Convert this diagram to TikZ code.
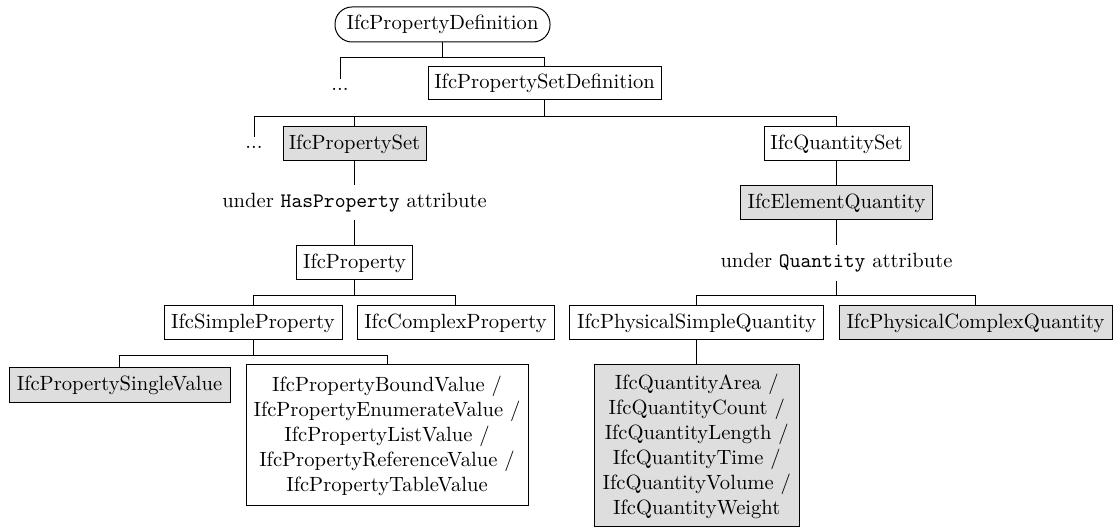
\documentclass[tikz,border=0pt]{standalone}
\definecolor{boxgray}{RGB}{222,222,222}
\begin{document}
\begin{tikzpicture}[x=0.5pt,y=-0.5pt,
  font=\fontsize{10.3}{12.5}\selectfont,
  box/.style={draw, line width=0.5pt, inner sep=0pt, align=center},
  shaded/.style={box, fill=boxgray},
  conn/.style={line width=0.5pt},
  note/.style={inner sep=0pt, minimum height=17.5pt},
  dotsnode/.style={inner sep=0pt, minimum height=10pt}]
\useasboundingbox (0,0) rectangle (1113,528);

% levels of the horizontal bars
\coordinate (b0) at (0,58);
\coordinate (b1) at (0,117);
\coordinate (b2) at (0,296);
\coordinate (b3) at (0,356);

% nodes
\node[box, rounded corners=8.5pt, minimum width=107.5pt, minimum height=17.5pt] (root) at (442.5,24.5) {IfcPropertyDefinition};
\node[dotsnode] (d1) at (340,89) {...};
\node[box, minimum width=116.5pt, minimum height=16.5pt] (psd) at (544.5,83.5) {IfcPropertySetDefinition};
\node[dotsnode] (d2) at (254,147) {...};
\node[shaded, minimum width=71.5pt, minimum height=17pt] (pset) at (354.5,144) {IfcPropertySet};
\node[box, minimum width=72.5pt, minimum height=17pt] (qset) at (836.5,144) {IfcQuantitySet};
\node[note] (lab1) at (354.5,202.5) {under \texttt{HasProperty} attribute};
\node[shaded, minimum width=96pt, minimum height=17pt] (eq) at (836.5,203) {IfcElementQuantity};
\node[note] (lab2) at (836.5,263) {under \texttt{Quantity} attribute};
\node[box, minimum width=58pt, minimum height=17pt] (prop) at (354.5,263) {IfcProperty};
\node[box, minimum width=89pt, minimum height=17pt] (simple) at (253,323) {IfcSimpleProperty};
\node[box, minimum width=98.5pt, minimum height=17pt] (complex) at (455.5,323) {IfcComplexProperty};
\node[box, minimum width=127pt, minimum height=17pt] (pss) at (696.75,323) {IfcPhysicalSimpleQuantity};
\node[shaded, minimum width=136.5pt, minimum height=17pt] (pcq) at (975.5,323) {IfcPhysicalComplexQuantity};
\node[shaded, minimum width=110.5pt, minimum height=17.5pt] (single) at (119.5,385.5) {IfcPropertySingleValue};
\node[box, minimum width=141pt, minimum height=70.5pt] (multi) at (387,435.5)
  {IfcPropertyBoundValue /\\ IfcPropertyEnumerateValue /\\ IfcPropertyListValue /\\ IfcPropertyReferenceValue /\\ IfcPropertyTableValue};
\node[shaded, minimum width=102.5pt, minimum height=81pt] (qty) at (696.75,446)
  {IfcQuantityArea /\\ IfcQuantityCount /\\ IfcQuantityLength /\\ IfcQuantityTime /\\ IfcQuantityVolume /\\ IfcQuantityWeight};

% connectors
\draw[conn] (root.south) -- (root.south |- b0) -| (d1.north);
\draw[conn] (root.south) -- (root.south |- b0) -| (psd.north);
\draw[conn] (psd.south) -- (psd.south |- b1) -| (d2.north);
\draw[conn] (psd.south) -- (psd.south |- b1) -| (pset.north);
\draw[conn] (psd.south) -- (psd.south |- b1) -| (qset.north);
\draw[conn] (pset.south) -- (pset.south |- lab1.north);
\draw[conn] (lab1.south) -- (lab1.south |- prop.north);
\draw[conn] (qset.south) -- (qset.south |- eq.north);
\draw[conn] (eq.south) -- (eq.south |- lab2.north);
\draw[conn] (prop.south) -- (prop.south |- b2) -| (simple.north);
\draw[conn] (prop.south) -- (prop.south |- b2) -| (complex.north);
\draw[conn] (lab2.south) -- (lab2.south |- b2) -| (pss.north);
\draw[conn] (lab2.south) -- (lab2.south |- b2) -| (pcq.north);
\draw[conn] (simple.south) -- (simple.south |- b3) -| (single.north);
\draw[conn] (simple.south) -- (simple.south |- b3) -| (multi.north);
\draw[conn] (pss.south) -- (pss.south |- qty.north);
\end{tikzpicture}
\end{document}
